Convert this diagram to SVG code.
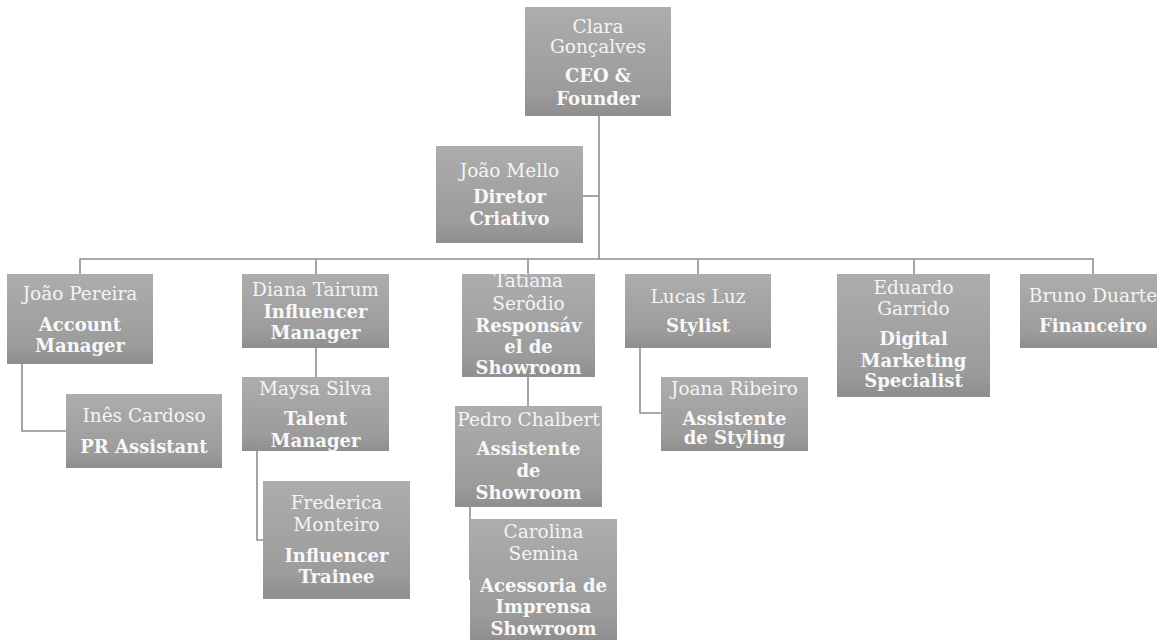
<svg xmlns="http://www.w3.org/2000/svg" width="1157" height="640" viewBox="0 0 1157 640">
<defs>
<linearGradient id="g" x1="0" y1="0" x2="0" y2="1">
<stop offset="0" stop-color="#adadad"/>
<stop offset="0.8" stop-color="#9b9b9b"/>
<stop offset="1" stop-color="#8e8e8e"/>
</linearGradient>
<style>
.box{fill:url(#g);}
.n{font-family:"DejaVu Serif","Liberation Serif",serif;font-size:18.5px;fill:#f4f4f4;text-anchor:middle;}
.t{font-family:"DejaVu Serif","Liberation Serif",serif;font-size:18px;font-weight:bold;fill:#f8f8f8;text-anchor:middle;}
.c{fill:none;stroke:#8f8f8f;stroke-width:1.6;}
</style>
</defs>
<rect width="1157" height="640" fill="#ffffff"/>
<g id="connectors">
<path class="c" d="M599 116V259"/>
<path class="c" d="M583 196H599"/>
<path class="c" d="M80 274V259H1093V274"/>
<path class="c" d="M316 259V274"/>
<path class="c" d="M528 259V274"/>
<path class="c" d="M698 259V274"/>
<path class="c" d="M914 259V274"/>
<path class="c" d="M22 364V431H66"/>
<path class="c" d="M316 348V377"/>
<path class="c" d="M257 451V540H263"/>
<path class="c" d="M528 377V406"/>
<path class="c" d="M470 507V580"/>
<path class="c" d="M640 348V413H661"/>
</g>
<g id="ceo">
<rect class="box" x="525" y="7" width="146" height="109"/>
<text class="n" x="598" y="33">Clara</text>
<text class="n" x="598" y="53">Gonçalves</text>
<text class="t" x="598" y="82">CEO &amp;</text>
<text class="t" x="598" y="105">Founder</text>
</g>
<g id="joao-mello">
<rect class="box" x="436" y="146" width="147" height="97"/>
<text class="n" x="509.5" y="177">João Mello</text>
<text class="t" x="509.5" y="203">Diretor</text>
<text class="t" x="509.5" y="225">Criativo</text>
</g>
<g id="joao-pereira">
<rect class="box" x="7" y="274" width="146" height="90"/>
<text class="n" x="80" y="300">João Pereira</text>
<text class="t" x="80" y="331">Account</text>
<text class="t" x="80" y="352">Manager</text>
</g>
<g id="ines-cardoso">
<rect class="box" x="66" y="394" width="156" height="74"/>
<text class="n" x="144" y="422">Inês Cardoso</text>
<text class="t" x="144" y="453">PR Assistant</text>
</g>
<g id="diana-tairum">
<rect class="box" x="242" y="274" width="147" height="74"/>
<text class="n" x="315.5" y="296">Diana Tairum</text>
<text class="t" x="315.5" y="318">Influencer</text>
<text class="t" x="315.5" y="339">Manager</text>
</g>
<g id="maysa-silva">
<rect class="box" x="242" y="377" width="147" height="74"/>
<text class="n" x="315.5" y="395">Maysa Silva</text>
<text class="t" x="315.5" y="425">Talent</text>
<text class="t" x="315.5" y="447">Manager</text>
</g>
<g id="frederica-monteiro">
<rect class="box" x="263" y="481" width="147" height="118"/>
<text class="n" x="336.5" y="509">Frederica</text>
<text class="n" x="336.5" y="531">Monteiro</text>
<text class="t" x="336.5" y="562">Influencer</text>
<text class="t" x="336.5" y="583">Trainee</text>
</g>
<g id="tatiana-serodio">
<rect class="box" x="462" y="274" width="133" height="103"/>
<text class="n" x="528.5" y="287">Tatiana</text>
<text class="n" x="528.5" y="310">Serôdio</text>
<text class="t" x="528.5" y="332">Responsáv</text>
<text class="t" x="528.5" y="353">el de</text>
<text class="t" x="528.5" y="374">Showroom</text>
</g>
<g id="pedro-chalbert">
<rect class="box" x="455" y="406" width="147" height="101"/>
<text class="n" x="528.5" y="426">Pedro Chalbert</text>
<text class="t" x="528.5" y="455">Assistente</text>
<text class="t" x="528.5" y="477">de</text>
<text class="t" x="528.5" y="499">Showroom</text>
</g>
<g id="carolina-semina">
<rect class="box" x="470" y="519" width="147" height="121"/>
<text class="n" x="543.5" y="538">Carolina</text>
<text class="n" x="543.5" y="560">Semina</text>
<text class="t" x="543.5" y="592">Acessoria de</text>
<text class="t" x="543.5" y="613">Imprensa</text>
<text class="t" x="543.5" y="635">Showroom</text>
</g>
<g id="lucas-luz">
<rect class="box" x="625" y="274" width="146" height="74"/>
<text class="n" x="698" y="303">Lucas Luz</text>
<text class="t" x="698" y="332">Stylist</text>
</g>
<g id="joana-ribeiro">
<rect class="box" x="661" y="377" width="147" height="74"/>
<text class="n" x="734.5" y="395">Joana Ribeiro</text>
<text class="t" x="734.5" y="425">Assistente</text>
<text class="t" x="734.5" y="444">de Styling</text>
</g>
<g id="eduardo-garrido">
<rect class="box" x="837" y="274" width="153" height="123"/>
<text class="n" x="913.5" y="294">Eduardo</text>
<text class="n" x="913.5" y="315">Garrido</text>
<text class="t" x="913.5" y="345">Digital</text>
<text class="t" x="913.5" y="367">Marketing</text>
<text class="t" x="913.5" y="387">Specialist</text>
</g>
<g id="bruno-duarte">
<rect class="box" x="1020" y="274" width="146" height="74"/>
<text class="n" x="1093" y="302">Bruno Duarte</text>
<text class="t" x="1093" y="332">Financeiro</text>
</g>
</svg>
